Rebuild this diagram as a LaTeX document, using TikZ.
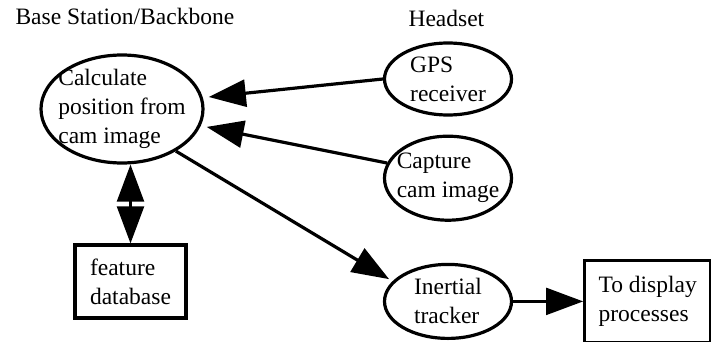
\documentclass[tikz,border=0pt]{standalone}
\usepackage{fontspec}
\setmainfont{Liberation Serif}
\usetikzlibrary{arrows.meta,positioning,shapes.geometric}
\tikzset{
    label text/.style = {
        anchor = base west,
        },
    flow/.style = {
        ->,
        line width = 3.2pt,
        },
    thin flow/.style = {
        ->,
        line width = 2.2pt,
        },
}

\begin{document}
\begin{tikzpicture}[
            x=1pt, y=-1pt,
            >={Triangle[length=37pt, width=27pt]},
            every node/.style={font=\fontsize{23.5}{29}\selectfont, align=left},
            ProcEllipse/.style={ellipse, draw, line width=3.2pt, inner sep=-10pt, minimum width=127pt},
            DataBlock/.style={rectangle, draw, line width=3.2pt, inner sep=0pt},
            node distance=18pt
            ]
            \useasboundingbox (0,0) rectangle (711,342);

            \node [label text] (base) at (12,25) {Base Station/Backbone};
            \node [label text] (head) at (405,27) {Headset};

            \node [ProcEllipse, minimum width=162pt, minimum height=108pt] (calc) at (122,109) {Calculate\\position from\\cam image};
            \node [DataBlock, minimum width=111pt, minimum height=73pt] (feat) at (130.5,281.5) {feature\\database};

            \node [ProcEllipse, minimum height=72pt] (gps) at (448,79) {GPS\\receiver};
            \node [ProcEllipse, minimum height=84pt, below=of gps] (cam) {Capture\\cam image};
            \node [ProcEllipse, minimum height=74pt, below=41pt of cam] (inert) {Inertial\\tracker};
            \node [DataBlock, minimum width=126pt, minimum height=82pt, right=70pt of inert] (disp) {To display\\processes};

            \draw[flow, shorten >=6pt] (gps.west) -- (calc.8);
            \draw[flow, shorten >=6pt] (cam.166) -- (calc.-12);
            \draw[flow, shorten >=4pt] (calc.-38) -- (inert.160);
            \draw[thin flow, <->] (feat.north) -- (feat.north |- calc.south);
            \draw[thin flow] (inert.east) -- (disp.west);
\end{tikzpicture}
\end{document}
